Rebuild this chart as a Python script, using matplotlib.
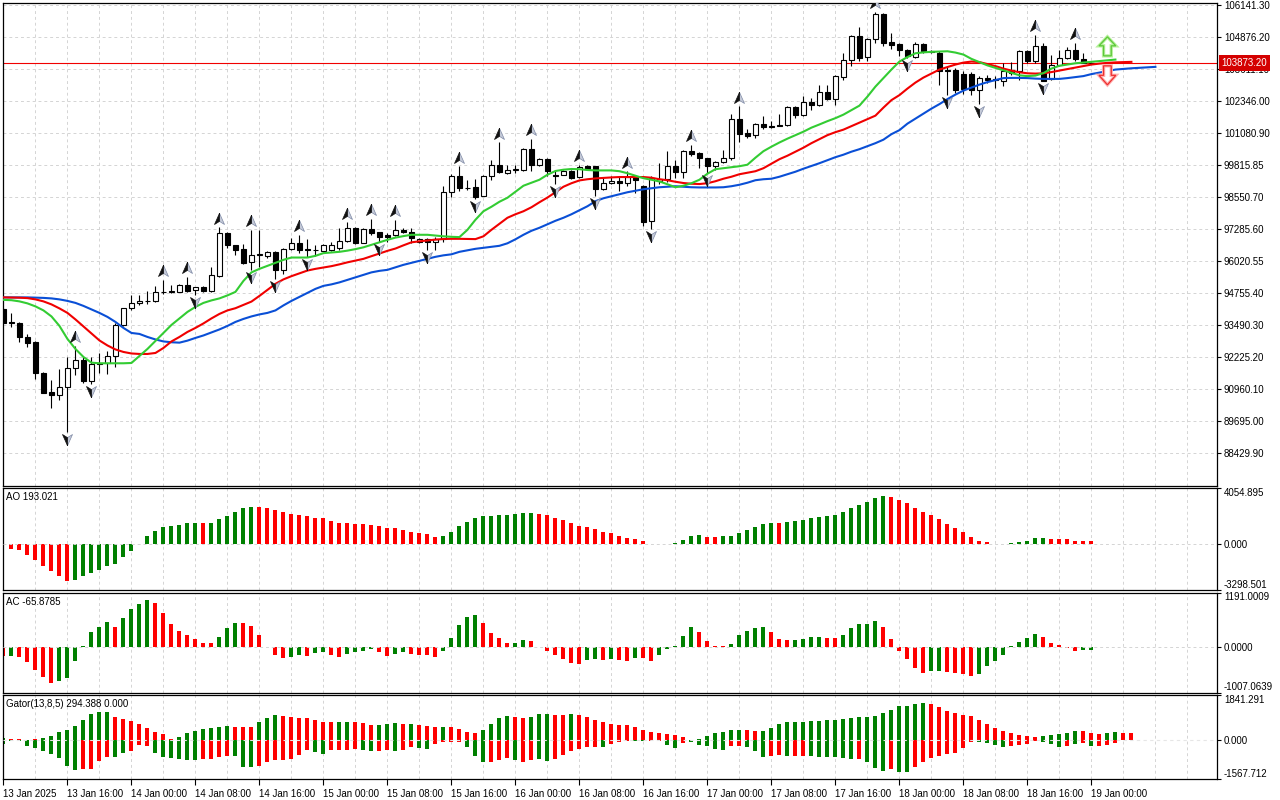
import numpy as np
import matplotlib
matplotlib.use('Agg')
import matplotlib.pyplot as plt
from matplotlib.patches import Polygon
from matplotlib.path import Path

plt.rcParams['font.family'] = ['Liberation Sans', 'DejaVu Sans']
fs = 7.0

# H1 candles, 13 Jan 2025 08:00 .. 19 Jan 2025 00:00
open_ = [94124, 93621, 93594, 93039, 92829, 91589, 90848, 90729, 91058, 91787,
         92116, 91296, 91985, 92009, 92274, 93502, 94164, 94362, 94465, 94453,
         94810, 94822, 94822, 95075, 94889, 94996, 94850, 95456, 97159, 96660,
         96525, 95987, 96288, 96236, 96407, 95682, 96502, 96739, 96502, 96474,
         96446, 96474, 96541, 96842, 97334, 96763, 97294, 97175, 97056, 97056,
         97266, 97175, 96779, 96910, 96779, 96910, 98744, 99406, 98919, 98958,
         98613, 99406, 99842, 99513, 99644, 99644, 100476, 99842, 100079, 99445,
         99445, 99604, 99339, 99774, 99802, 98891, 99117, 99208, 99117, 99339,
         99010, 97595, 99180, 99275, 99802, 99537, 100396, 100305, 100091, 99774,
         99933, 100107, 101664, 101098, 101003, 101454, 101387, 101426, 101399, 102128,
         101795, 102326, 102191, 102722, 102445, 103300, 103974, 104953, 104109, 104822,
         105824, 104687, 104624, 104398, 104109, 104636, 104331, 104267, 103606, 103606,
         103447, 103447, 102813, 103277, 103209, 103170, 103578, 103538, 104331, 103962,
         104557, 103237, 103776, 104069, 104398, 104041, 103880]
high = [94164, 93966, 93633, 93146, 92869, 91652, 91323, 91759, 92246, 92682,
        92246, 92246, 92381, 92484, 93570, 94188, 94691, 94691, 94850, 95048,
        95285, 95075, 95115, 95416, 95020, 95048, 95789, 97373, 97199, 96668,
        96700, 97266, 97266, 96446, 96434, 96541, 96937, 97068, 96898, 96672,
        96700, 96779, 97334, 97556, 97373, 97334, 97702, 97199, 97136, 97663,
        97334, 97334, 96961, 96937, 97001, 98982, 99473, 99774, 99247, 99275,
        99445, 100040, 100725, 99842, 99842, 100503, 100860, 100107, 100107, 99616,
        99644, 99644, 99842, 99842, 99810, 99315, 99378, 99378, 99576, 99445,
        99049, 99378, 99909, 100369, 100040, 100436, 100634, 100345, 100107, 99972,
        100436, 101862, 102151, 101256, 101494, 101783, 101557, 101862, 102179, 102179,
        102575, 102484, 102984, 103011, 103408, 104267, 104992, 105297, 104862, 105900,
        105840, 105060, 104664, 104426, 104687, 104664, 104398, 104331, 103736, 103673,
        103538, 103499, 103340, 103408, 103340, 103871, 103895, 104398, 104398, 104992,
        104664, 104200, 104398, 104489, 104664, 104267, 103900]
low = [93570, 93435, 92817, 92619, 91351, 90796, 90226, 90531, 89275, 91521,
       91193, 91165, 91589, 91549, 91850, 93463, 94097, 94295, 94334, 94426,
       94719, 94782, 94798, 94798, 94691, 94810, 94822, 95416, 96541, 96276,
       95919, 95682, 95812, 96145, 95313, 95523, 96474, 96367, 96209, 96248,
       96434, 96446, 96474, 96803, 96712, 96739, 97041, 96779, 96803, 97029,
       97136, 96739, 96739, 96474, 96474, 96803, 98562, 98784, 98823, 98483,
       98586, 99220, 99513, 99485, 99513, 99576, 99604, 99802, 99378, 99089,
       99418, 99287, 99315, 99644, 98586, 98823, 99089, 98784, 98982, 98720,
       97425, 97294, 99089, 99140, 99315, 99315, 100198, 99711, 99513, 99644,
       99909, 100040, 100725, 100899, 100899, 101268, 101296, 101359, 101387, 101692,
       101755, 102021, 102151, 102417, 102219, 103209, 103764, 103962, 103962, 104664,
       104557, 104426, 104160, 104081, 104069, 104267, 104267, 103011, 102615, 102682,
       102643, 102615, 102247, 103079, 102881, 102972, 103408, 103209, 103871, 103871,
       103142, 103209, 103736, 104030, 103934, 103871, 103850]
close = [93594, 93570, 93015, 92801, 91589, 90820, 90717, 91058, 91787, 92116,
         91296, 91957, 91969, 92274, 93502, 94164, 94362, 94465, 94441, 94798,
         94822, 94838, 95075, 94861, 94996, 94850, 95483, 97136, 96672, 96474,
         95947, 96288, 96304, 96407, 95682, 96502, 96739, 96474, 96486, 96486,
         96660, 96672, 96842, 97334, 96763, 97294, 97159, 97001, 97001, 97266,
         97175, 96937, 96910, 96779, 96910, 98760, 99406, 98919, 98931, 98562,
         99406, 99842, 99537, 99644, 99656, 100476, 99814, 100067, 99576, 99378,
         99604, 99315, 99735, 99683, 98891, 99117, 99208, 99117, 99339, 99220,
         97556, 99315, 99275, 99802, 99537, 100396, 100277, 100107, 99774, 99933,
         100107, 101652, 101058, 100991, 101454, 101319, 101335, 101375, 102128, 101795,
         102326, 102191, 102722, 102445, 103368, 104002, 104953, 104069, 104822, 105824,
         104664, 104596, 104370, 104133, 104636, 104331, 104307, 103538, 103538, 102813,
         102841, 102813, 103277, 103182, 103221, 103538, 103475, 104331, 103962, 104557,
         103170, 103804, 104069, 104398, 104030, 103880, 103873.2]

# alligator (already shifted forward: jaw 8, teeth 5, lips 3 bars)
jaw = [94592, 94592, 94592, 94592, 94584, 94572, 94552, 94513, 94453, 94374,
       94255, 94117, 93978, 93820, 93621, 93384, 93185, 93146, 93027, 92928,
       92849, 92817, 92801, 92881, 92988, 93086, 93205, 93324, 93463, 93621,
       93740, 93839, 93918, 93978, 94077, 94275, 94453, 94612, 94770, 94929,
       95048, 95107, 95186, 95285, 95384, 95483, 95582, 95642, 95682, 95781,
       95880, 95959, 96038, 96117, 96197, 96256, 96296, 96395, 96454, 96514,
       96553, 96593, 96633, 96732, 96890, 97069, 97227, 97346, 97485, 97623,
       97742, 97881, 98039, 98198, 98396, 98514, 98594, 98673, 98752, 98812,
       98871, 98911, 98950, 98970, 98990, 98970, 98950, 98942, 98942, 98942,
       98950, 98990, 99049, 99129, 99228, 99267, 99287, 99366, 99465, 99564,
       99683, 99790, 99901, 100020, 100139, 100238, 100357, 100456, 100575, 100694,
       100832, 101050, 101209, 101466, 101664, 101862, 102060, 102239, 102437, 102615,
       102774, 102893, 103011, 103110, 103190, 103269, 103277, 103277, 103269, 103249,
       103237, 103237, 103237, 103269, 103308, 103348, 103427, 103487, 103546, 103606,
       103633, 103657, 103677, 103697, 103713]
teeth = [94592, 94588, 94580, 94564, 94513, 94434, 94315, 94156, 93978, 93720,
         93443, 93166, 92888, 92690, 92532, 92433, 92373, 92354, 92354, 92393,
         92591, 92849, 93027, 93225, 93384, 93562, 93760, 93938, 94077, 94164,
         94295, 94426, 94651, 94889, 95127, 95305, 95432, 95543, 95654, 95721,
         95773, 95828, 95899, 95979, 96046, 96117, 96224, 96335, 96434, 96525,
         96652, 96771, 96811, 96846, 96878, 96902, 96910, 96910, 96902, 96898,
         97009, 97266, 97504, 97742, 97881, 98000, 98158, 98356, 98542, 98752,
         98970, 99109, 99220, 99267, 99299, 99319, 99339, 99354, 99354, 99354,
         99354, 99327, 99267, 99228, 99168, 99117, 99089, 99077, 99109, 99188,
         99287, 99366, 99465, 99525, 99584, 99703, 99881, 100060, 100198, 100357,
         100515, 100694, 100852, 101011, 101130, 101229, 101367, 101506, 101644, 101783,
         102100, 102397, 102595, 102853, 103091, 103289, 103447, 103606, 103705, 103804,
         103883, 103923, 103903, 103823, 103744, 103645, 103566, 103499, 103459, 103447,
         103459, 103507, 103566, 103625, 103685, 103744, 103804, 103843, 103871, 103891,
         103903, 103911]
lips = [94493, 94481, 94434, 94355, 94236, 94077, 93839, 93463, 92948, 92552,
        92235, 92009, 91985, 91985, 91985, 91985, 91997, 92275, 92552, 92869,
        93185, 93502, 93760, 94017, 94216, 94374, 94473, 94552, 94671, 94810,
        95245, 95582, 95721, 95840, 95959, 96078, 96169, 96169, 96169, 96236,
        96343, 96367, 96395, 96442, 96502, 96573, 96672, 96771, 96870, 96957,
        97017, 97069, 97069, 97069, 97037, 97009, 96989, 96977, 97266, 97663,
        98000, 98178, 98376, 98534, 98772, 99010, 99129, 99247, 99446, 99593,
        99644, 99672, 99664, 99632, 99616, 99616, 99616, 99585, 99505, 99406,
        99307, 99247, 99180, 99069, 98950, 99010, 99109, 99247, 99485, 99664,
        99703, 99743, 99782, 99842, 100119, 100376, 100555, 100721, 100872, 101010,
        101149, 101308, 101434, 101565, 101684, 101823, 101999, 102179, 102536, 102932,
        103269, 103606, 103923, 104101, 104251, 104287, 104307, 104319, 104331, 104279,
        104200, 104030, 103903, 103772, 103673, 103578, 103479, 103380, 103348, 103368,
        103467, 103645, 103756, 103804, 103855, 103883, 103915, 103942, 103974, 104002]

fractal_up = [9, 20, 23, 27, 31, 37, 43, 46, 49, 57, 62, 66, 72, 78, 86, 92, 109, 129, 134]
fractal_dn = [8, 11, 24, 31, 34, 38, 47, 53, 59, 69, 74, 81, 88, 113, 118, 122, 130]

ao = [-72, -337, -451, -766, -1124, -1554, -1955, -2313, -2628, -2556,
      -2313, -2076, -1840, -1554, -1411, -952, -480, 36, 551, 952,
      1196, 1267, 1382, 1525, 1532, 1513, 1522, 1769, 2026, 2313,
      2556, 2671, 2658, 2578, 2413, 2270, 2169, 2098, 1983, 1883,
      1840, 1668, 1525, 1522, 1453, 1450, 1360, 1289, 1124, 1119,
      1024, 881, 809, 737, 523, 594, 881, 1267, 1597, 1883,
      2026, 2032, 2098, 2103, 2169, 2241, 2246, 2169, 2055, 1883,
      1740, 1525, 1289, 1239, 1095, 881, 809, 594, 451, 379,
      236, 18, -9, 27, 93, 308, 594, 666, 523, 519,
      591, 600, 809, 1024, 1239, 1453, 1525, 1522, 1597, 1668,
      1740, 1883, 1955, 2026, 2098, 2313, 2599, 2814, 3029, 3315,
      3458, 3387, 3172, 2957, 2599, 2313, 2098, 1811, 1453, 1167,
      881, 523, 236, 165, 27, 18, 49, 165, 236, 451,
      456, 379, 376, 371, 236, 233, 193.021]
ac = [-205, -200, -227, -337, -513, -667, -799, -755, -689, -315,
      22, 315, 440, 535, 440, 623, 821, 931, 1019, 953,
      733, 491, 345, 249, 161, 73, 70, 205, 403, 521,
      518, 447, 249, -7, -176, -249, -227, -183, -205, -132,
      -117, -183, -227, -169, -117, -95, -51, -117, -213, -169,
      -117, -169, -172, -183, -227, -95, 183, 469, 645, 689,
      513, 293, 183, 73, 75, 139, 117, -7, -95, -183,
      -271, -367, -370, -293, -271, -293, -271, -293, -315, -249,
      -250, -315, -183, -51, 22, 227, 425, 315, 117, 22,
      5, 51, 249, 337, 403, 425, 315, 161, 139, 145,
      161, 205, 207, 183, 180, 249, 403, 491, 495, 557,
      425, 161, -95, -271, -469, -579, -535, -532, -557, -579,
      -601, -645, -601, -425, -315, -183, 5, 95, 183, 271,
      205, 73, 29, -22, -100, -72, -65.8785]

gator_up = [81, 40, 40, 27, 40, 108, 189, 324, 405, 594,
            810, 1053, 1148, 1161, 959, 878, 797, 662, 513, 324,
            243, 40, 135, 284, 365, 446, 513, 554, 567, 554,
            554, 554, 756, 905, 1026, 999, 959, 918, 918, 824,
            729, 729, 756, 756, 743, 689, 635, 640, 675, 716,
            675, 680, 635, 594, 554, 554, 554, 473, 351, 311,
            432, 675, 918, 999, 959, 918, 959, 1080, 1080, 1040,
            1040, 1080, 1040, 959, 837, 756, 675, 635, 635, 554,
            432, 351, 311, 270, 230, 149, 27, 68, 189, 311,
            351, 432, 432, 405, 365, 365, 486, 648, 729, 729,
            729, 770, 770, 810, 810, 851, 891, 932, 932, 972,
            1094, 1242, 1404, 1404, 1485, 1526, 1485, 1364, 1202, 1121,
            1040, 999, 837, 675, 513, 392, 311, 230, 189, 135,
            189, 230, 270, 311, 392, 385, 311, 270, 311, 351,
            311, 294.388]
gator_up_col = ('grrrrggggg' 'ggggrrrrrr' 'rrgggggggr' 'rrgggrrrrr' 'rrggrrrggg'
                'rgrrrgrrrr' 'ggggrrgggr' 'rgrrrrrrrr' 'rrrrrrrggg' 'gggrrggggg'
                'gggggggggg' 'ggggggrrrr' 'rrrrrrrrrr' 'gggggrrrgg' 'rr')
gator_dn = [135, 14, 14, 216, 324, 419, 540, 716, 1026, 1215,
            1175, 1175, 851, 662, 662, 500, 419, 189, 216, 513,
            662, 702, 756, 797, 797, 756, 756, 689, 621, 648,
            1067, 1094, 1026, 891, 797, 797, 756, 594, 405, 486,
            567, 405, 405, 378, 351, 405, 446, 446, 405, 446,
            405, 284, 324, 365, 162, 81, 81, 81, 284, 648,
            891, 891, 810, 729, 810, 891, 810, 770, 851, 770,
            608, 446, 365, 284, 284, 284, 162, 81, 40, 27,
            40, 40, 27, 203, 324, 122, 81, 203, 243, 365,
            405, 243, 243, 284, 446, 689, 648, 608, 648, 648,
            648, 648, 689, 689, 689, 729, 770, 770, 891, 1134,
            1256, 1175, 1296, 1296, 1094, 891, 729, 648, 567, 527,
            324, 81, 81, 122, 203, 284, 243, 203, 162, 27,
            81, 162, 284, 243, 162, 122, 243, 243, 203, 122,
            0, 0]
gator_dn_col = ('gggggggggg' 'rrrrggrrrg' 'gggggrrrrg' 'ggrrrrrrrg' 'grrrrggrrg'
                'rrggrrrrgg' 'grrrgrrggr' 'rrrrrgrrrg' 'grrggrgggg' 'grrgggrrgr'
                'rggggggrgg' 'grggrrrrrr' 'rrggggrrrr' 'gggrgrgrrr' 'rr')

price_ticks = [106141.30, 104876.20, 103611.10, 102346.00, 101080.90, 99815.85, 98550.70,
               97285.60, 96020.55, 94755.40, 93490.30, 92225.20, 90960.10, 89695.00, 88429.90]
time_labels = ['13 Jan 2025', '13 Jan 16:00', '14 Jan 00:00', '14 Jan 08:00', '14 Jan 16:00',
               '15 Jan 00:00', '15 Jan 08:00', '15 Jan 16:00', '16 Jan 00:00', '16 Jan 08:00',
               '16 Jan 16:00', '17 Jan 00:00', '17 Jan 08:00', '17 Jan 16:00', '18 Jan 00:00',
               '18 Jan 08:00', '18 Jan 16:00', '19 Jan 00:00']
ao_range = (-3298.501, 4054.895)
ac_range = (-1007.0639, 1191.0009)
gator_range = (-1567.712, 1841.291)

GREEN = '#008000'
RED = '#ff0000'
GRID = '#d4d4d4'

W, H = 1280, 800
fig = plt.figure(figsize=(W / 100, H / 100), dpi=100)


def px_axes(x0, y0, x1, y1):
    return fig.add_axes([x0 / W, 1 - y1 / H, (x1 - x0) / W, (y1 - y0) / H])


ax = px_axes(2.5, 2.5, 1217, 485.5)
ao_ax = px_axes(2.5, 487.5, 1217, 590)
ac_ax = px_axes(2.5, 592.5, 1217, 692.5)
gt_ax = px_axes(2.5, 695, 1217, 779)
axes = [ax, ao_ax, ac_ax, gt_ax]

n = len(close)
idx = np.arange(n)
xmax = 151.7
for a in axes:
    a.set_xlim(-0.12, xmax)
    for s in a.spines.values():
        s.set_color('black')
        s.set_linewidth(0.9)
    for g in range(4, int(xmax) + 1, 4):
        a.axvline(g, color=GRID, lw=0.7, ls=(0, (3, 3)), zorder=0)
    a.yaxis.tick_right()
    a.tick_params(axis='y', direction='out', length=3, width=0.8, pad=2,
                  labelsize=fs, colors='black')
    a.tick_params(axis='x', bottom=False, labelbottom=False)

# ---- price panel
ax.set_ylim(87149, 106260)
ax.set_yticks(price_ticks)
ax.set_yticklabels(['%.2f' % p for p in price_ticks])
for p in price_ticks:
    ax.axhline(p, color=GRID, lw=0.7, ls=(0, (3, 3)), zorder=0)

o = np.array(open_)
c = np.array(close)
ax.vlines(idx, low, high, color='black', lw=0.8, zorder=3)
body_col = np.where(c >= o, 'white', 'black')
ax.bar(idx, c - o, bottom=o, width=0.55, color=body_col, edgecolor='black',
       linewidth=0.8, zorder=4)

ax.plot(np.arange(len(jaw)), jaw, color='#0a4fd6', lw=1.5, zorder=5)
ax.plot(np.arange(len(teeth)), teeth, color='#f00000', lw=1.5, zorder=5)
ax.plot(np.arange(len(lips)), lips, color='#33cc33', lw=1.5, zorder=5)

# current price line + label
last = close[-1]
ax.axhline(last, color='#f00000', lw=0.8, zorder=2)
ax.annotate('%.2f' % last, xy=(1, last), xycoords=('axes fraction', 'data'),
            xytext=(3.4, 0), textcoords='offset points', ha='left', va='center',
            fontsize=fs, color='white', annotation_clip=False, zorder=10,
            bbox=dict(boxstyle='square,pad=0.3', fc='#d40000', ec='none'))

# fractal arrows (two-tone arrow heads)
left_half = Path([(0, 1), (0, -0.3), (-0.8, -0.8), (0, 1)])
right_half = Path([(0, 1), (0.8, -0.8), (0, -0.3), (0, 1)])
left_dn = Path([(0, -1), (0, 0.3), (-0.8, 0.8), (0, -1)])
right_dn = Path([(0, -1), (0.8, 0.8), (0, 0.3), (0, -1)])
pxp = (106260 - 87149) / 483.0
fu = np.array(fractal_up)
fd = np.array(fractal_dn)
yu = np.array(high)[fu] + 8.5 * pxp
yd = np.array(low)[fd] - 7.0 * pxp
for xs, ys, lh, rh in [(fu, yu, left_half, right_half), (fd, yd, left_dn, right_dn)]:
    ax.plot(xs, ys, ls='none', marker=rh, ms=9, mfc='#c5cad8', mec='#7f8aa6',
            mew=0.5, zorder=6)
    ax.plot(xs, ys, ls='none', marker=lh, ms=9, mfc='#111111', mec='#111111',
            mew=0.5, zorder=6)

# signal arrows to the right of the last bar
xc = n + 1.0
hw, sw = 1.05, 0.48
up_pts = [(xc, last + 26 * pxp), (xc + hw, last + 17 * pxp), (xc + sw, last + 17 * pxp),
          (xc + sw, last + 7 * pxp), (xc - sw, last + 7 * pxp), (xc - sw, last + 17 * pxp),
          (xc - hw, last + 17 * pxp)]
dn_pts = [(xc, last - 22 * pxp), (xc + hw, last - 12.5 * pxp), (xc + sw, last - 12.5 * pxp),
          (xc + sw, last - 3 * pxp), (xc - sw, last - 3 * pxp), (xc - sw, last - 12.5 * pxp),
          (xc - hw, last - 12.5 * pxp)]
for pts, outer, inner in [(up_pts, '#b6f09a', '#5cc83a'), (dn_pts, '#ffb0b0', '#ee3030')]:
    ax.add_patch(Polygon(pts, closed=True, fc='white', ec=outer, lw=2.4, zorder=7))
    ax.add_patch(Polygon(pts, closed=True, fc='none', ec=inner, lw=0.9, zorder=7))


# ---- oscillators
def osc_panel(a, vals, rng, title, fmt):
    a.set_ylim(*rng)
    a.axhline(0, color=GRID, lw=0.7, ls=(0, (3, 3)), zorder=3)
    v = np.array(vals, dtype=float)
    cols = [RED] + [GREEN if v[i] > v[i - 1] else RED for i in range(1, len(v))]
    a.bar(np.arange(len(v)), v, width=0.5, color=cols, linewidth=0, zorder=2)
    a.set_yticks([rng[0], 0, rng[1]])
    a.set_yticklabels([fmt % rng[0], fmt % 0, fmt % rng[1]])
    labs = a.get_yticklabels()
    labs[0].set_va('bottom')
    labs[2].set_va('top')
    a.text(4 / 1214.5, 0.955, title, transform=a.transAxes, ha='left', va='top',
           fontsize=fs)


osc_panel(ao_ax, ao, ao_range, 'AO %.3f' % ao[-1], '%.3f')
osc_panel(ac_ax, ac, ac_range, 'AC %.4f' % ac[-1], '%.4f')

gt_ax.set_ylim(*gator_range)
gi = np.arange(len(gator_up))
up_c = [GREEN if ch == 'g' else RED for ch in gator_up_col]
dn_c = [GREEN if ch == 'g' else RED for ch in gator_dn_col]
gt_ax.bar(gi, gator_up, width=0.5, color=up_c, linewidth=0, zorder=2)
gt_ax.bar(gi, -np.array(gator_dn, dtype=float), width=0.5, color=dn_c, linewidth=0, zorder=2)
gt_ax.axhline(0, color='#e6e6e6', lw=0.8, ls=(0, (3, 3)), zorder=3)
gt_ax.set_yticks([gator_range[0], 0, gator_range[1]])
gt_ax.set_yticklabels(['%.3f' % gator_range[0], '0.000', '%.3f' % gator_range[1]])
gl = gt_ax.get_yticklabels()
gl[0].set_va('bottom')
gl[2].set_va('top')
gt_ax.text(4 / 1214.5, 0.95, 'Gator(13,8,5) %.3f %.3f' % (gator_up[-1], gator_dn[-1]),
           transform=gt_ax.transAxes, ha='left', va='top', fontsize=fs)

# time axis
gt_ax.tick_params(axis='x', bottom=True, labelbottom=True, direction='out', length=4,
                  width=0.8, pad=3, labelsize=fs)
gt_ax.set_xticks(np.arange(0, n, 8))
gt_ax.set_xticklabels(time_labels, ha='left')

fig.savefig('out.png', dpi=100, facecolor='white')
